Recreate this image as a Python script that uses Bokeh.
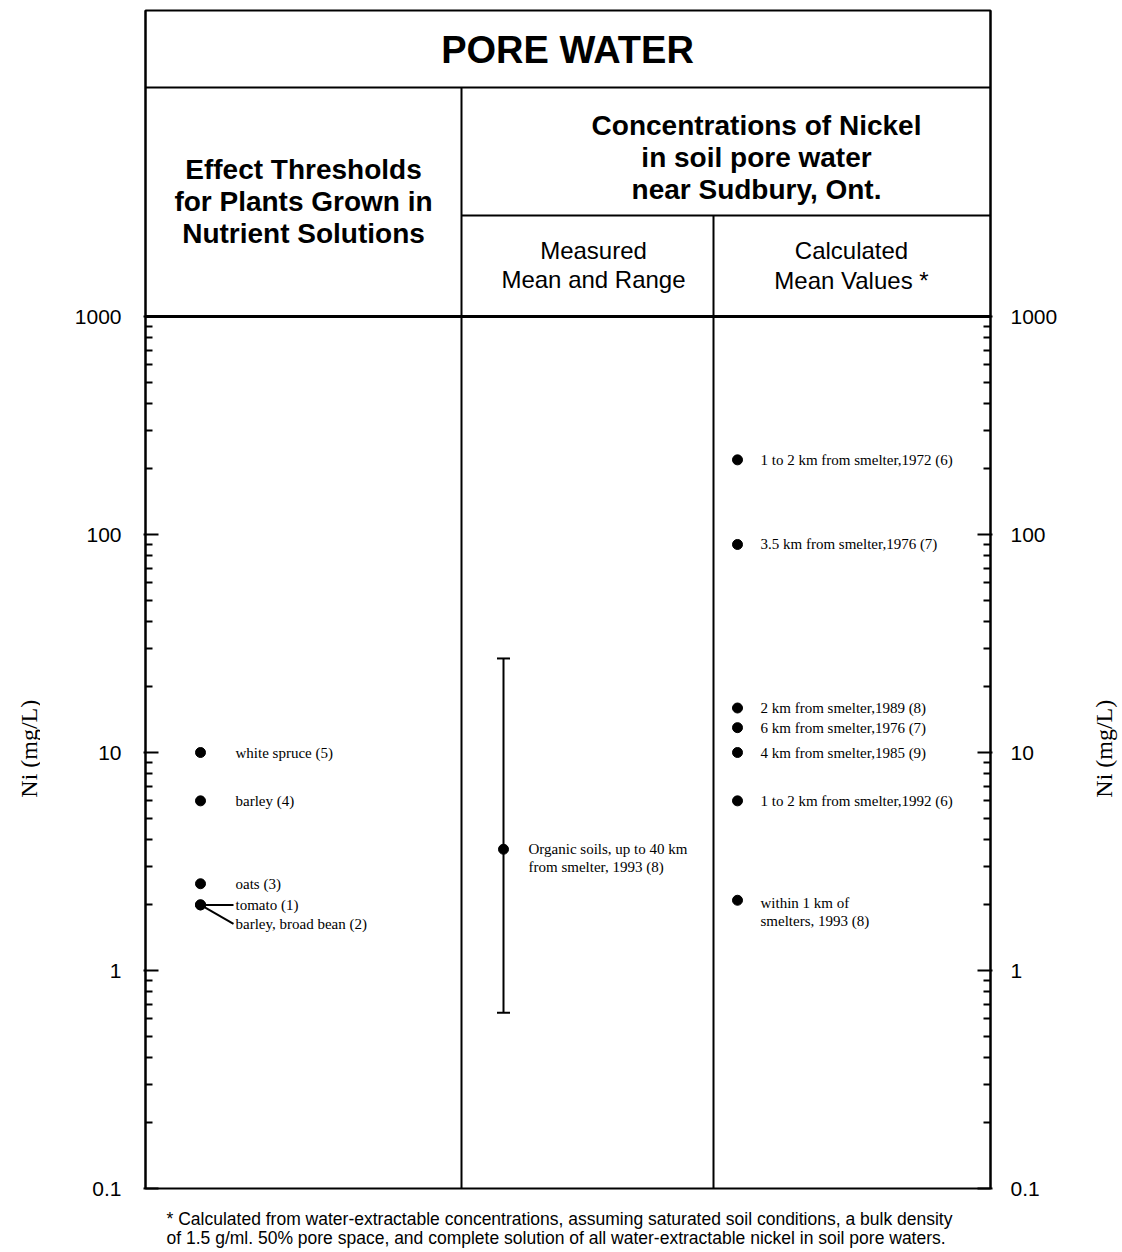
import math
from bokeh.plotting import figure
from bokeh.layouts import row, column
from bokeh.models import Range1d, LogAxis, FixedTicker, CustomJSTickFormatter, Label
from bokeh.core.properties import value
from bokeh.embed import file_html
from bokeh.resources import INLINE

# ---------------- data ----------------
effect_labels = ["white spruce (5)", "barley (4)", "oats (3)", "tomato (1)", "barley, broad bean (2)"]
effect_values = [10, 6, 2.5, 2, 2]
effect_leader = [False, False, False, True, True]

measured_lines = ["Organic soils, up to 40 km", "from smelter, 1993 (8)"]
measured_mean = [3.6]
measured_low = [0.64]
measured_high = [27]

calc_labels = ["1 to 2 km from smelter,1972 (6)", "3.5 km from smelter,1976 (7)",
               "2 km from smelter,1989 (8)", "6 km from smelter,1976 (7)",
               "4 km from smelter,1985 (9)", "1 to 2 km from smelter,1992 (6)",
               "within 1 km of"]
calc_values = [220, 90, 16, 13, 10, 6, 2.1]
calc_second_line = "smelters, 1993 (8)"

tick_values = [0.1, 1, 10, 100, 1000]
minor_values = [m * d for d in [0.1, 1, 10, 100] for m in range(2, 10)]

y_label = "Ni (mg/L)"
footnote = ["* Calculated from water-extractable concentrations, assuming saturated soil conditions, a bulk density",
            "of 1.5 g/ml. 50% pore space, and complete solution of all water-extractable nickel in soil pore waters."]

# ---------------- layout helpers (image pixel -> data) ----------------
DECADE_PX = 218.0
Y_BOTTOM_PX = 1188.0     # value 0.1
Y_TOP_PX = 10.0
MAIN_H = 1200
LEFT_W, RIGHT_W = 40, 40
MAIN_W = 1040
FOOT_H = 50


def ypx(py):
    return 10 ** (-1 + (Y_BOTTOM_PX - py) / DECADE_PX)


def shift(v, dpx):
    return v * 10 ** (-dpx / DECADE_PX)


X_LEFT, X_RIGHT = 145, 990
X_DIV1, X_DIV2 = 461, 713
X_EFFECT, X_MEAS, X_CALC = 200, 503, 737

p = figure(width=MAIN_W, height=MAIN_H, output_backend="svg", toolbar_location=None,
           y_axis_type="log", x_axis_location=None,
           x_range=Range1d(X_LEFT, X_RIGHT), y_range=Range1d(ypx(Y_BOTTOM_PX), ypx(Y_TOP_PX)),
           min_border_left=X_LEFT - LEFT_W, min_border_right=MAIN_W - (X_RIGHT - LEFT_W),
           min_border_top=int(Y_TOP_PX), min_border_bottom=MAIN_H - int(Y_BOTTOM_PX))
p.grid.visible = False
p.outline_line_color = "black"
p.outline_line_width = 2
p.background_fill_color = "white"
p.border_fill_color = "white"

formatter = CustomJSTickFormatter(code="return tick < 1 ? tick.toFixed(1) : tick.toFixed(0);")
right_axis = LogAxis()
p.add_layout(right_axis, "right")
for ax, standoff in [(p.yaxis[0], 22), (right_axis, 18)]:
    ax.ticker = FixedTicker(ticks=tick_values, minor_ticks=minor_values)
    ax.formatter = formatter
    ax.axis_line_width = 2
    ax.major_tick_line_width = 2
    ax.minor_tick_line_width = 2
    ax.major_tick_in = 13
    ax.major_tick_out = 2
    ax.minor_tick_in = 7
    ax.minor_tick_out = 0
    ax.major_label_standoff = standoff
    ax.major_label_text_font = "Liberation Sans"
    ax.major_label_text_font_size = "21px"
    ax.major_label_text_color = "black"
    ax.axis_line_color = "black"

# ---------------- header frame lines ----------------
p.segment(x0=[X_LEFT, X_DIV1, X_DIV1, X_DIV2], y0=[ypx(87), ypx(87), ypx(215), ypx(215)],
          x1=[X_RIGHT, X_DIV1, X_RIGHT, X_DIV2], y1=[ypx(87), ypx(Y_BOTTOM_PX), ypx(215), ypx(Y_BOTTOM_PX)],
          line_color="black", line_width=2)
p.segment(x0=[X_LEFT], y0=[ypx(316)], x1=[X_RIGHT], y1=[ypx(316)], line_color="black", line_width=3)


def lab(fig, x, y, text, size, bold=False, font="Liberation Sans", align="center", angle=0.0):
    fig.add_layout(Label(x=x, y=y, text=text, text_align=align, text_baseline="middle",
                         text_font=font, text_font_size=size,
                         text_font_style="bold" if bold else "normal", text_color="black", angle=angle))


# ---------------- header texts ----------------
lab(p, 567, ypx(49), "PORE WATER", "38px", bold=True)
for i, t in enumerate(["Effect Thresholds", "for Plants Grown in", "Nutrient Solutions"]):
    lab(p, 303, ypx(169 + 32 * i), t, "28px", bold=True)
for i, t in enumerate(["Concentrations of Nickel", "in soil pore water", "near Sudbury, Ont."]):
    lab(p, 756, ypx(125 + 32 * i), t, "28px", bold=True)
for i, t in enumerate(["Measured", "Mean and Range"]):
    lab(p, 593, ypx(250 + 29 * i), t, "24px")
for i, t in enumerate(["Calculated", "Mean Values *"]):
    lab(p, 851, ypx(250 + 30 * i), t, "24px")

# ---------------- data marks ----------------
SERIF = value("Liberation Serif")

# effect thresholds
p.scatter(x=[X_EFFECT] * len(effect_values), y=effect_values, size=10, color="black")
lead_idx = [i for i, f in enumerate(effect_leader) if f]
p.segment(x0=[X_EFFECT] * len(lead_idx), y0=[effect_values[i] for i in lead_idx],
          x1=[X_EFFECT + 33] * len(lead_idx),
          y1=[shift(effect_values[i], 19 * k) for k, i in enumerate(lead_idx)],
          line_color="black", line_width=2)
eff_yoff = []
k = 0
for f in effect_leader:
    if f:
        eff_yoff.append(19 * k)
        k += 1
    else:
        eff_yoff.append(0)
p.text(x=[X_EFFECT] * len(effect_values), y=effect_values, text=effect_labels,
       x_offset=[35] * len(effect_values), y_offset=eff_yoff,
       text_font=SERIF, text_font_size="15px", text_baseline="middle", text_color="black")

# measured mean and range
p.segment(x0=[X_MEAS], y0=measured_low, x1=[X_MEAS], y1=measured_high, line_color="black", line_width=2)
p.scatter(x=[X_MEAS, X_MEAS], y=[measured_low[0], measured_high[0]], marker="dash", size=13,
          line_color="black", line_width=2)
p.scatter(x=[X_MEAS], y=measured_mean, size=10, color="black")
p.text(x=[X_MEAS, X_MEAS], y=[measured_mean[0], measured_mean[0]], text=measured_lines,
       x_offset=[25, 25], y_offset=[0, 18],
       text_font=SERIF, text_font_size="15px", text_baseline="middle", text_color="black")

# calculated mean values
p.scatter(x=[X_CALC] * len(calc_values), y=calc_values, size=10, color="black")
p.text(x=[X_CALC] * len(calc_values), y=calc_values, text=calc_labels,
       x_offset=[23] * len(calc_values), y_offset=[0] * (len(calc_values) - 1) + [3],
       text_font=SERIF, text_font_size="15px", text_baseline="middle", text_color="black")
p.text(x=[X_CALC], y=[calc_values[-1]], text=[calc_second_line], x_offset=[23], y_offset=[21],
       text_font=SERIF, text_font_size="15px", text_baseline="middle", text_color="black")


# ---------------- side panels for axis titles and footnote ----------------
def blank(w, h):
    f = figure(width=w, height=h, output_backend="svg", toolbar_location=None,
               x_range=Range1d(0, w), y_range=Range1d(h, 0),
               x_axis_location=None, y_axis_location=None,
               min_border=0, min_border_left=0, min_border_right=0, min_border_top=0, min_border_bottom=0)
    f.grid.visible = False
    f.outline_line_color = None
    f.background_fill_color = "white"
    f.border_fill_color = "white"
    return f


left_fig = blank(LEFT_W, MAIN_H)
lab(left_fig, 28, 752, y_label, "24px", font="Liberation Serif", angle=math.pi / 2)
right_fig = blank(RIGHT_W, MAIN_H)
lab(right_fig, 1103 - (LEFT_W + MAIN_W), 752, y_label, "24px", font="Liberation Serif", angle=math.pi / 2)

foot_fig = blank(LEFT_W + MAIN_W + RIGHT_W, FOOT_H)
for i, t in enumerate(footnote):
    lab(foot_fig, 166, 1218 + 19 * i - MAIN_H, t, "17.5px", align="left")

layout = column(row(left_fig, p, right_fig, spacing=0), foot_fig, spacing=0)

open("out.html", "w").write(file_html(layout, INLINE))
